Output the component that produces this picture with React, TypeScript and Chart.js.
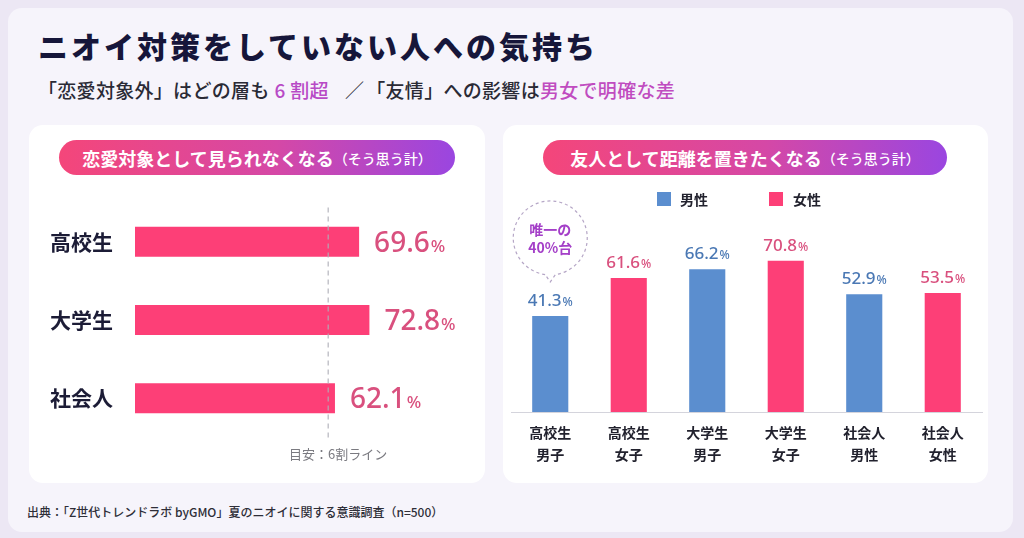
import React, { useEffect, useRef } from 'react';
import { Chart, registerables } from 'chart.js';

Chart.register(...registerables);

// ---- data ----
const leftCategories = ['高校生', '大学生', '社会人'];
const leftValues = [69.6, 72.8, 62.1];
const guideValue = 60;
const guideLabel = '目安：6割ライン';

const rightGroups = ['高校生', '高校生', '大学生', '大学生', '社会人', '社会人'];
const rightSubgroups = ['男子', '女子', '男子', '女子', '男性', '女性'];
const seriesNames = ['男性', '女性'];
const maleValues = [41.3, null, 66.2, null, 52.9, null];
const femaleValues = [null, 61.6, null, 70.8, null, 53.5];
const bubbleLines = ['唯一の', '40%台'];

const JP = '"Noto Sans CJK JP", "Noto Sans", sans-serif';
const NUM = '"Noto Sans", "Noto Sans CJK JP", sans-serif';
const BLUE = '#5b8ecf';
const PINK = '#fd3f77';
const BLUE_TXT = '#4a78b4';
const PINK_TXT = '#d9507e';

function drawValue(
  ctx: CanvasRenderingContext2D,
  x: number,
  y: number,
  value: number,
  numSize: number,
  pctSize: number,
  color: string,
  align: 'left' | 'center'
) {
  const num = value.toFixed(1);
  ctx.save();
  ctx.textBaseline = 'alphabetic';
  ctx.textAlign = 'left';
  ctx.fillStyle = color;
  ctx.font = `500 ${numSize}px ${NUM}`;
  const w1 = ctx.measureText(num).width;
  ctx.font = `500 ${pctSize}px ${NUM}`;
  const w2 = ctx.measureText('%').width;
  const start = align === 'left' ? x : x - (w1 + 1 + w2) / 2;
  ctx.font = `500 ${numSize}px ${NUM}`;
  ctx.fillText(num, start, y);
  ctx.font = `500 ${pctSize}px ${NUM}`;
  ctx.fillText('%', start + w1 + 1, y);
  ctx.restore();
}

function LeftChart() {
  const ref = useRef<HTMLCanvasElement>(null);
  useEffect(() => {
    if (!ref.current) return;
    const plugin = {
      id: 'leftDecor',
      afterDatasetsDraw(chart: any) {
        const ctx = chart.ctx as CanvasRenderingContext2D;
        const xs = chart.scales.x;
        const area = chart.chartArea;
        const gx = xs.getPixelForValue(guideValue);
        ctx.save();
        ctx.strokeStyle = 'rgba(175,175,185,0.85)';
        ctx.lineWidth = 1.3;
        ctx.setLineDash([5, 4]);
        ctx.beginPath();
        ctx.moveTo(gx, area.top + 5);
        ctx.lineTo(gx, area.bottom + 1);
        ctx.stroke();
        ctx.setLineDash([]);
        ctx.fillStyle = '#7a7a80';
        ctx.font = `400 13px ${JP}`;
        ctx.textAlign = 'center';
        ctx.textBaseline = 'middle';
        ctx.fillText(guideLabel, gx + 10, area.bottom + 17);
        ctx.restore();
        const meta = chart.getDatasetMeta(0);
        meta.data.forEach((bar: any, i: number) => {
          drawValue(ctx, bar.x + 15, bar.y + 10, leftValues[i], 28, 17, PINK_TXT, 'left');
        });
      },
    };
    const chart = new Chart(ref.current, {
      type: 'bar',
      data: {
        labels: leftCategories,
        datasets: [
          {
            data: leftValues,
            backgroundColor: PINK,
            barPercentage: 0.385,
            categoryPercentage: 1,
          },
        ],
      },
      options: {
        indexAxis: 'y',
        animation: false,
        responsive: false,
        maintainAspectRatio: false,
        layout: { padding: { top: 13, bottom: 33, right: 28, left: 0 } },
        plugins: { legend: { display: false }, tooltip: { enabled: false } },
        scales: {
          x: { min: 0, max: 100, display: false },
          y: {
            grid: { display: false, drawTicks: false },
            border: { display: false },
            ticks: {
              padding: 22,
              color: '#1c1c36',
              font: { family: JP, size: 21, weight: 'bold' },
            },
            afterFit: (s: any) => {
              s.width = 107;
            },
          },
        },
      } as any,
      plugins: [plugin],
    });
    return () => chart.destroy();
  }, []);
  return (
    <canvas
      ref={ref}
      width={457}
      height={304}
      style={{ position: 'absolute', left: 28, top: 168, width: 457, height: 304 }}
    />
  );
}

function RightChart() {
  const ref = useRef<HTMLCanvasElement>(null);
  useEffect(() => {
    if (!ref.current) return;
    const plugin = {
      id: 'rightDecor',
      afterDatasetsDraw(chart: any) {
        const ctx = chart.ctx as CanvasRenderingContext2D;
        [maleValues, femaleValues].forEach((vals, di) => {
          const meta = chart.getDatasetMeta(di);
          meta.data.forEach((bar: any, i: number) => {
            const v = vals[i];
            if (v == null) return;
            drawValue(ctx, bar.x, bar.y - 10, v, 17, 12, di === 0 ? BLUE_TXT : PINK_TXT, 'center');
          });
        });
        // bubble on the only 40% bar
        const b = chart.getDatasetMeta(0).data[0];
        if (b) {
          const cx = b.x;
          const cy = b.y - 78;
          const r = 37;
          ctx.save();
          ctx.fillStyle = '#ffffff';
          ctx.strokeStyle = '#b5a6c6';
          ctx.lineWidth = 1.2;
          ctx.setLineDash([3, 3]);
          ctx.beginPath();
          const a1 = Math.PI / 2 + 0.14;
          const a2 = Math.PI / 2 - 0.14;
          ctx.arc(cx, cy, r, a1, a2 + Math.PI * 2, false);
          ctx.lineTo(cx, cy + r + 7);
          ctx.closePath();
          ctx.fill();
          ctx.stroke();
          ctx.setLineDash([]);
          ctx.fillStyle = '#a43fc8';
          ctx.font = `bold 14px ${JP}`;
          ctx.textAlign = 'center';
          ctx.textBaseline = 'middle';
          ctx.fillText(bubbleLines[0], cx, cy - 8);
          ctx.fillText(bubbleLines[1], cx, cy + 10);
          ctx.restore();
        }
      },
    };
    const labels = rightGroups.map((g, i) => [g, rightSubgroups[i]]);
    const chart = new Chart(ref.current, {
      type: 'bar',
      data: {
        labels,
        datasets: [
          {
            label: seriesNames[0],
            data: maleValues,
            backgroundColor: BLUE,
            base: -10,
            barPercentage: 0.46,
            categoryPercentage: 1,
            grouped: false,
          },
          {
            label: seriesNames[1],
            data: femaleValues,
            backgroundColor: PINK,
            base: -10,
            barPercentage: 0.46,
            categoryPercentage: 1,
            grouped: false,
          },
        ],
      } as any,
      options: {
        animation: false,
        responsive: false,
        maintainAspectRatio: false,
        layout: { padding: { top: 26, left: 8, right: 6, bottom: 0 } },
        plugins: { legend: { display: false }, tooltip: { enabled: false } },
        scales: {
          y: { min: -10, max: 100, display: false },
          x: {
            grid: { display: false, drawTicks: false },
            border: { display: true, color: '#d4d4dc', width: 1 },
            ticks: {
              padding: 10,
              color: '#22222e',
              font: { family: JP, size: 14, weight: 'bold', lineHeight: 1.55 },
              maxRotation: 0,
              autoSkip: false,
            },
            afterFit: (s: any) => {
              s.height = 63;
            },
          },
        },
      } as any,
      plugins: [plugin],
    });
    return () => chart.destroy();
  }, []);
  return (
    <canvas
      ref={ref}
      width={485}
      height={295}
      style={{ position: 'absolute', left: 503, top: 180, width: 485, height: 295 }}
    />
  );
}

const pill = (left: number, width: number): React.CSSProperties => ({
  position: 'absolute',
  left,
  top: 140,
  width,
  height: 35,
  borderRadius: 18,
  background: 'linear-gradient(90deg, #f4467a 0%, #d548a6 55%, #9a46e0 100%)',
  color: '#fff',
  display: 'flex',
  alignItems: 'center',
  justifyContent: 'center',
  fontFamily: JP,
  whiteSpace: 'nowrap',
});

export default function App() {
  return (
    <div
      style={{
        position: 'fixed',
        left: 0,
        top: 0,
        width: 1024,
        height: 538,
        background: '#ece7f4',
        overflow: 'hidden',
        fontFamily: JP,
      }}
    >
      <div
        style={{
          position: 'absolute',
          left: 8,
          top: 8,
          width: 1005,
          height: 524,
          background: '#f6f4fb',
          borderRadius: 14,
        }}
      />
      <div
        style={{
          position: 'absolute',
          left: 38,
          top: 26,
          fontSize: 30,
          fontWeight: 900,
          color: '#16163a',
          letterSpacing: 3,
          lineHeight: '38px',
          whiteSpace: 'nowrap',
        }}
      >
        ニオイ対策をしていない人への気持ち
      </div>
      <div
        style={{
          position: 'absolute',
          left: 38,
          top: 77,
          fontSize: 19,
          fontWeight: 500,
          color: '#2a2a35',
          lineHeight: '26px',
          letterSpacing: 0.3,
          whiteSpace: 'nowrap',
        }}
      >
        「恋愛対象外」はどの層も<span style={{ color: '#b84ac6', marginLeft: 5 }}>6 割超</span>
        <span style={{ marginLeft: 16, marginRight: 2 }}>／</span>「友情」への影響は
        <span style={{ color: '#c04cc0' }}>男女で明確な差</span>
      </div>

      <div
        style={{
          position: 'absolute',
          left: 29,
          top: 125,
          width: 456,
          height: 358,
          background: '#ffffff',
          borderRadius: 14,
        }}
      />
      <div
        style={{
          position: 'absolute',
          left: 503,
          top: 125,
          width: 485,
          height: 358,
          background: '#ffffff',
          borderRadius: 14,
        }}
      />

      <div style={pill(59, 396)}>
        <span style={{ fontSize: 18, fontWeight: 700 }}>恋愛対象として見られなくなる</span>
        <span style={{ fontSize: 14, fontWeight: 500 }}>（そう思う計）</span>
      </div>
      <div style={pill(543, 404)}>
        <span style={{ fontSize: 18, fontWeight: 700 }}>友人として距離を置きたくなる</span>
        <span style={{ fontSize: 14, fontWeight: 500 }}>（そう思う計）</span>
      </div>

      <LeftChart />
      <RightChart />

      {/* legend */}
      <div style={{ position: 'absolute', left: 657, top: 192, width: 14, height: 14, background: BLUE }} />
      <div
        style={{
          position: 'absolute',
          left: 680,
          top: 188,
          fontSize: 14,
          fontWeight: 700,
          color: '#22222e',
          lineHeight: '22px',
        }}
      >
        {seriesNames[0]}
      </div>
      <div style={{ position: 'absolute', left: 769, top: 192, width: 14, height: 14, background: PINK }} />
      <div
        style={{
          position: 'absolute',
          left: 793,
          top: 188,
          fontSize: 14,
          fontWeight: 700,
          color: '#22222e',
          lineHeight: '22px',
        }}
      >
        {seriesNames[1]}
      </div>

      <div
        style={{
          position: 'absolute',
          left: 27,
          top: 502,
          fontSize: 12,
          fontWeight: 500,
          color: '#2e2e38',
          lineHeight: '20px',
          whiteSpace: 'nowrap',
        }}
      >
        出典：「Z世代トレンドラボ byGMO」夏のニオイに関する意識調査（n=500）
      </div>
    </div>
  );
}
